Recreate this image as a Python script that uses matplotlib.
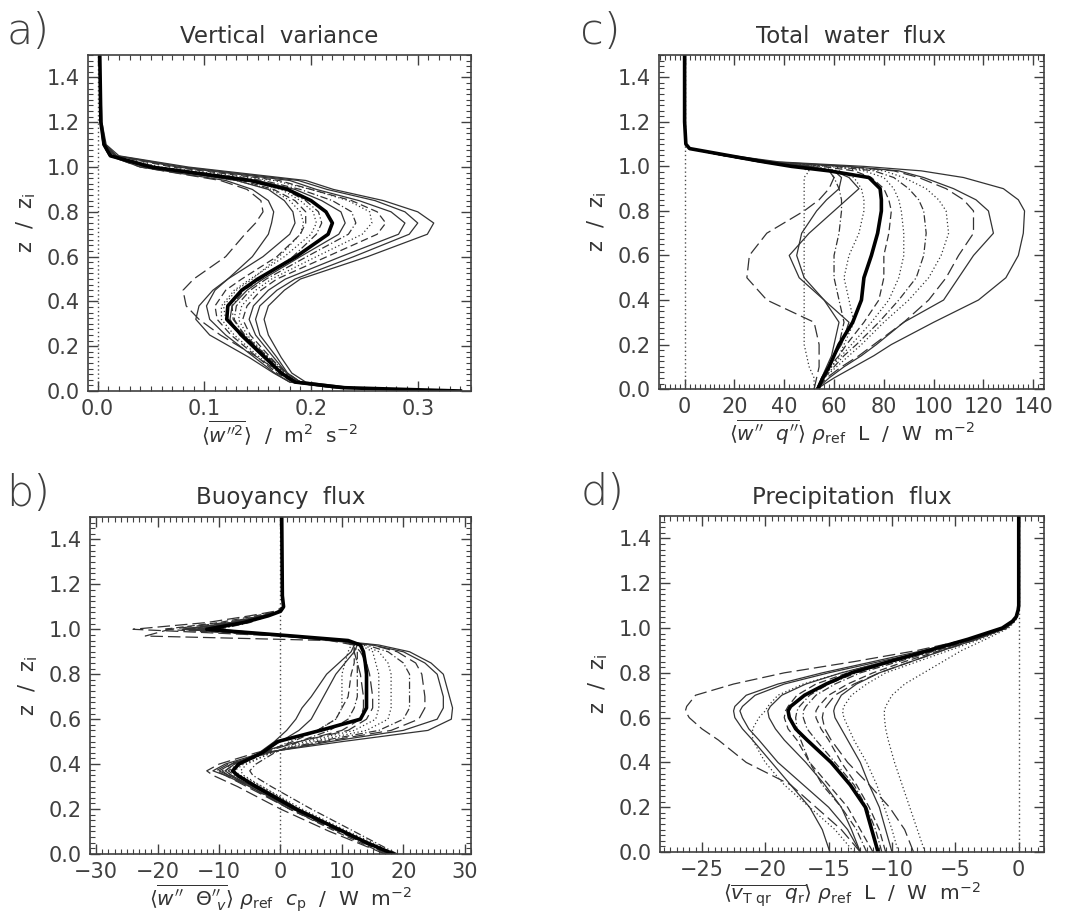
import matplotlib
matplotlib.use('Agg')
import matplotlib.pyplot as plt
from matplotlib.ticker import MultipleLocator, FuncFormatter

plt.rcParams['font.family'] = ['DejaVu Sans']
plt.rcParams['mathtext.fontset'] = 'dejavusans'

#%% data: heights (z / z_i) and profiles for each panel

# a) vertical variance
za = [0.0, 0.015, 0.04, 0.08, 0.15, 0.25, 0.32, 0.38, 0.45, 0.5, 0.6, 0.7, 0.75, 0.8, 0.85, 0.9, 0.94, 1.0, 1.05, 1.1, 1.2, 1.5]
wa_mean = [.34, .23, .185, .172, .157, .135, .121, .122, .135, .150, .186, .216, .220, .214, .200, .178, .143, .05, .012, .006, .003, .002]
wa_runs = [
    [.34, .24, .195, .182, .172, .16, .156, .16, .175, .19, .253, .309, .315, .30, .268, .221, .195, .085, .02, .008, .004, .002],
    [.34, .235, .19, .178, .168, .152, .148, .152, .168, .185, .24, .292, .300, .288, .26, .215, .188, .08, .018, .007, .003, .002],
    [.34, .235, .19, .177, .165, .148, .142, .146, .16, .176, .228, .282, .288, .275, .245, .205, .18, .075, .017, .007, .003, .002],
    [.34, .23, .19, .176, .162, .143, .136, .14, .153, .168, .215, .262, .270, .262, .238, .2, .17, .07, .016, .006, .003, .002],
    [.34, .23, .19, .175, .16, .14, .132, .135, .148, .163, .205, .248, .257, .255, .235, .2, .165, .06, .015, .006, .003, .002],
    [.34, .23, .188, .174, .158, .137, .128, .13, .143, .158, .196, .235, .242, .238, .22, .19, .155, .055, .014, .006, .003, .002],
    [.34, .228, .186, .172, .155, .133, .124, .126, .14, .155, .19, .226, .232, .228, .21, .185, .15, .055, .013, .006, .003, .002],
    [.34, .225, .184, .17, .152, .128, .116, .116, .128, .143, .175, .2, .205, .202, .19, .172, .14, .05, .012, .006, .003, .002],
    [.34, .225, .183, .168, .15, .125, .112, .11, .12, .135, .168, .19, .195, .195, .185, .165, .135, .045, .012, .006, .003, .002],
    [.34, .22, .18, .166, .147, .12, .105, .102, .11, .122, .145, .16, .163, .165, .16, .145, .12, .04, .011, .005, .003, .002],
    [.34, .225, .185, .172, .15, .115, .095, .083, .08, .09, .12, .138, .148, .155, .153, .14, .115, .04, .011, .005, .003, .002],
    [.34, .22, .18, .165, .142, .105, .092, .095, .108, .122, .155, .18, .185, .183, .175, .16, .13, .045, .012, .006, .003, .002],
    [.34, .23, .19, .178, .16, .138, .127, .126, .137, .153, .183, .205, .21, .207, .195, .175, .145, .055, .013, .006, .003, .002],
    [.34, .228, .187, .175, .16, .135, .12, .118, .13, .145, .17, .19, .193, .19, .18, .163, .13, .045, .012, .006, .003, .002],
]
wa_styles = ['solid', 'solid', 'solid', 'dashed', 'dotted', 'dashdot', 'solid', 'dotted', 'dashed', 'solid', 'longdash', 'solid', 'dashdot', 'dotted']

# c) total water flux
zc = [0.0, 0.05, 0.1, 0.15, 0.2, 0.3, 0.4, 0.5, 0.6, 0.7, 0.8, 0.85, 0.9, 0.95, 0.98, 1.0, 1.02, 1.05, 1.08, 1.1, 1.2, 1.5]
qc_mean = [53.5, 55.5, 58, 60, 62, 67.5, 71, 72, 75, 77.5, 79, 79, 78.5, 74, 58, 43, 32, 17, 2, 0.5, 0, 0]
qc_runs = [
    [53, 60, 68, 76, 83, 100, 118, 129, 134, 136, 136.5, 134, 128, 112, 95, 72, 38, 18, 2, .5, 0, 0],
    [53, 58, 64, 71, 77, 88, 104, 110, 116, 124, 122, 117, 108, 96, 86, 66, 36, 17, 2, .5, 0, 0],
    [53, 57, 63, 70, 76, 88, 98, 105, 110, 116, 116, 112, 105, 94, 84, 64, 35, 17, 2, .5, 0, 0],
    [53, 56, 61, 66, 71, 80, 90, 98, 103, 106, 105, 102, 97, 88, 80, 62, 34, 16, 2, .5, 0, 0],
    [53, 56, 60, 64, 69, 78, 86, 93, 96, 97, 96, 94, 90, 84, 76, 60, 33, 16, 2, .5, 0, 0],
    [53, 55, 59, 63, 67, 75, 82, 86, 88, 88, 87, 86, 84, 80, 72, 58, 33, 16, 2, .5, 0, 0],
    [53, 55, 58, 62, 65, 72, 78, 80, 80, 82, 83, 82, 80, 75, 68, 55, 32, 16, 2, .5, 0, 0],
    [54, 56, 58, 60, 63, 66, 56, 46, 42, 50, 60, 65, 70, 66, 60, 50, 31, 15, 2, .5, 0, 0],
    [53, 55, 57, 59, 60, 62, 56, 48, 45, 47, 53, 57, 62, 63, 60, 50, 31, 15, 2, .5, 0, 0],
    [52, 53, 54, 54, 54, 52, 33, 25, 26, 33, 48, 54, 58, 60, 58, 48, 30, 15, 2, .5, 0, 0],
    [52, 52, 50, 49, 48, 48, 48, 48, 48, 48, 48, 48, 48, 48, 50, 45, 30, 15, 2, .5, 0, 0],
    [53, 56, 58, 60, 62, 64, 62, 60, 60, 62, 63, 63, 62, 60, 58, 48, 30, 15, 2, .5, 0, 0],
    [53, 56, 59, 62, 64, 68, 66, 64, 66, 70, 72, 72, 71, 68, 62, 52, 32, 16, 2, .5, 0, 0],
]
qc_styles = ['solid', 'solid', 'longdash', 'dotted', 'dashdot', 'dotted', 'dashed', 'solid', 'solid', 'longdash', 'dotted', 'dashdot', 'dotted']

# b) buoyancy flux
zb = [0.0, 0.05, 0.1, 0.2, 0.3, 0.35, 0.37, 0.4, 0.45, 0.5, 0.55, 0.6, 0.65, 0.7, 0.8, 0.85, 0.9, 0.93, 0.95, 0.97, 1.0, 1.03, 1.06, 1.08, 1.1, 1.15, 1.5]
bb_mean = [18.4, 14, 10.2, 2.5, -4, -7, -7.8, -6.8, -3, -0.5, 6.5, 13, 14, 14, 14, 13.8, 13.5, 13, 11, 2, -12, -6, -2, 0, 0.5, 0.3, 0.2]
bb_runs = [
    [18, 14, 10, 2, -5, -9, -11, -9, -3, 10, 24, 27.8, 28, 27.5, 26.5, 24.5, 21, 16, 9, 1, -15, -8, -3, 0, 0.5, 0.3, 0.2],
    [18, 14, 10, 2.5, -4.5, -8.5, -10, -8, -2.5, 8, 20, 25.5, 26.5, 26.5, 25.5, 23.5, 20, 15, 8, 0.5, -14, -7, -3, 0, 0.5, 0.3, 0.2],
    [17.5, 13.5, 9.5, 1.5, -5.5, -9, -10.5, -8.5, -2, 7, 18, 22.5, 23.5, 23.5, 23, 22, 19, 15, 9, 1, -16, -8, -3, 0, 0.5, 0.3, 0.2],
    [18, 14, 10, 2.5, -4, -7.5, -8.5, -7, -2, 6, 16, 20, 21, 21, 21, 20, 17.5, 14, 10, 1, -13, -7, -2.5, 0, 0.5, 0.3, 0.2],
    [18, 14.5, 10.5, 3, -3, -6.5, -7.5, -6, -1.5, 5, 14, 17.5, 18, 18, 18, 17.5, 16, 13.5, 10, 1.5, -12, -6, -2, 0, 0.5, 0.3, 0.2],
    [18.5, 15, 11, 3.5, -3, -6, -6.5, -5.5, -1.5, 4, 12, 15.5, 16, 16, 16, 15.5, 15, 13, 10, 1, -11, -6, -2, 0, 0.5, 0.3, 0.2],
    [17, 13, 9, 1.5, -5, -8, -9, -7.5, -3, 2, 6, 9, 10, 11, 11.5, 12, 12, 12, 10, 1, -19, -10, -4, -0.5, 0.5, 0.3, 0.2],
    [18, 14, 10, 2, -4.5, -8, -9, -7.5, -3.5, -1, 1, 2.5, 3.5, 5, 7.5, 9.5, 11.5, 12, 10, 1, -16, -8, -3, 0, 0.5, 0.3, 0.2],
    [18.5, 14.5, 10.5, 3, -3.5, -7, -8, -6.5, -3, 0, 3, 5, 6, 7, 9, 10.5, 12, 12.5, 10.5, 1.5, -13, -7, -2.5, 0, 0.5, 0.3, 0.2],
    [17, 12.5, 8, 0, -7, -11, -12, -10, -4, 3, 10, 13, 13.5, 13.5, 13, 12.5, 12, 12, 10, 0, -24, -12, -5, -1, 0.5, 0.3, 0.2],
    [19, 15.5, 12, 5, -1.5, -4.5, -5, -4, -1, 3, 8, 11, 12, 12.5, 12.5, 12.5, 12.5, 12, 10.5, 2, -10, -5, -2, 0, 0.5, 0.3, 0.2],
    [18, 14, 10, 2.5, -4, -7, -8, -6.5, -2.5, 1.5, 6, 9, 10, 10, 10, 10.5, 11, 11.5, 10, 1, -14, -7, -2.5, 0, 0.5, 0.3, 0.2],
    [17.5, 13.5, 9.5, 1.5, -5, -8.5, -9.5, -8, -3, 3, 11, 14, 15, 15, 14.5, 14, 13, 12, 8, -22, -18, -9, -3, 0, 0.5, 0.3, 0.2],
]
bb_styles = ['solid', 'solid', 'longdash', 'dashdot', 'dotted', 'dotted', 'dashed', 'solid', 'solid', 'longdash', 'dashdot', 'dotted', 'longdash']

# d) precipitation flux
zd = [0.0, 0.1, 0.2, 0.3, 0.4, 0.5, 0.55, 0.6, 0.63, 0.65, 0.7, 0.75, 0.8, 0.85, 0.9, 0.95, 1.0, 1.03, 1.05, 1.08, 1.1, 1.5]
pd_mean = [-11.1, -11.6, -12.1, -13.3, -14.8, -16.7, -17.6, -18.1, -18.2, -18, -16.9, -15.2, -13.2, -10.2, -7.1, -4, -1.3, -0.5, -0.2, -0.05, 0, 0]
pd_runs = [
    [-12.5, -14, -16, -18, -21.5, -23.7, -25, -26, -26.3, -26.2, -25.5, -22.5, -18.5, -13, -8, -4, -1.2, -0.4, -0.2, 0, 0, 0],
    [-14.9, -15.5, -16.5, -18, -19.5, -21, -21.8, -22.4, -22.5, -22.4, -21.5, -19, -15.5, -11.5, -7.5, -4, -1.2, -0.4, -0.2, 0, 0, 0],
    [-12.5, -13.5, -15, -17, -19, -20.5, -21.3, -21.8, -22, -21.8, -20.8, -18.5, -15, -11, -7, -3.8, -1.1, -0.4, -0.2, 0, 0, 0],
    [-13, -14.5, -16.5, -18.5, -20, -21, -21, -20.5, -20, -19.8, -19, -17, -14, -10.5, -7, -3.5, -1, -0.4, -0.2, 0, 0, 0],
    [-12.5, -13.2, -14, -15.3, -16.8, -18.5, -19.2, -19.7, -19.8, -19.6, -18.7, -16.8, -14, -10.5, -7, -3.8, -1.1, -0.4, -0.2, 0, 0, 0],
    [-11.5, -12.5, -13.5, -15, -16.5, -17.5, -18.2, -18.5, -18.4, -18.2, -17.5, -16, -13.5, -10, -6.5, -3.5, -1, -0.4, -0.2, 0, 0, 0],
    [-10.8, -11.3, -12, -13, -14.5, -16, -16.7, -17, -17, -16.8, -16, -14.5, -12.5, -9.5, -6.5, -3.5, -1, -0.4, -0.2, 0, 0, 0],
    [-10.5, -11, -11.8, -12.8, -14, -15, -15.6, -16, -16, -15.8, -15, -13.5, -11.5, -9, -6.2, -3.3, -1, -0.4, -0.2, 0, 0, 0],
    [-10, -10.5, -11, -11.8, -12.5, -13.5, -14, -14.5, -14.6, -14.5, -14, -12.8, -11, -8.5, -6, -3.3, -1, -0.4, -0.2, 0, 0, 0],
    [-9.5, -10, -10.6, -11.2, -12, -13, -13.4, -13.8, -13.9, -13.8, -13.2, -12, -10.5, -8, -5.5, -3, -0.9, -0.3, -0.1, 0, 0, 0],
    [-8.3, -9, -10.2, -11.8, -13.5, -14.8, -15.3, -15.5, -15.4, -15.2, -14.5, -13, -11, -8.5, -6, -3.3, -1, -0.4, -0.2, 0, 0, 0],
    [-7.4, -8, -8.6, -9.2, -9.8, -10.3, -10.5, -10.6, -10.6, -10.5, -10, -9, -7.5, -6, -4.5, -2.6, -0.8, -0.3, -0.1, 0, 0, 0],
    [-12, -12.8, -14, -15.5, -16.5, -17.2, -17.5, -17.6, -17.5, -17.3, -16.5, -15, -12.8, -10, -7, -3.8, -1.1, -0.4, -0.2, 0, 0, 0],
]
pd_styles = ['longdash', 'solid', 'solid', 'dotted', 'solid', 'dashed', 'dashdot', 'dashed', 'solid', 'dotted', 'longdash', 'dotted', 'dashdot']

#%% plotting
dash = {'solid': '-', 'dashed': (0, (6, 3)), 'dotted': (0, (1, 2)),
        'dashdot': (0, (6, 2, 1, 2)), 'longdash': (0, (10, 4))}

fig = plt.figure(figsize=(10.91, 9.22), dpi=100)

panels = [
    ('a)', 'Vertical  variance', [0.0807, 0.5759, 0.3511, 0.3644], za, wa_runs, wa_styles, wa_mean,
     (-0.009, 0.35), 0.1, 0.01, r'$\langle\overline{w^{\prime\prime 2}}\rangle$  /  m$^2$  s$^{-2}$', '%.1f'),
    ('c)', 'Total  water  flux', [0.604, 0.578, 0.3529, 0.3623], zc, qc_runs, qc_styles, qc_mean,
     (-10.3, 144.3), 20, 2, r'$\langle\overline{w^{\prime\prime}\ \ q^{\prime\prime}}\rangle\ \rho_{\rm ref}$  L  /  W  m$^{-2}$', '%d'),
    ('b)', 'Buoyancy  flux', [0.0825, 0.0738, 0.3492, 0.3655], zb, bb_runs, bb_styles, bb_mean,
     (-31, 31), 10, 1, r'$\langle\overline{w^{\prime\prime}\ \ \Theta^{\prime\prime}_{\ v}}\rangle\ \rho_{\rm ref}\ \ c_{\rm p}$  /  W  m$^{-2}$', '%d'),
    ('d)', 'Precipitation  flux', [0.605, 0.0759, 0.352, 0.3644], zd, pd_runs, pd_styles, pd_mean,
     (-28.3, 2.0), 5, 0.5, r'$\langle\overline{v_{\rm T\ qr}\ \ q_{\rm r}}\rangle\ \rho_{\rm ref}$  L  /  W  m$^{-2}$', '%d'),
]

for label, title, rect, z, runs, styles, mean, xlim, xmaj, xmin, xlab, fmt in panels:
    ax = fig.add_axes(rect)
    ax.axvline(0, color='0.3', ls=(0, (1, 2)), lw=1.0)
    for prof, st in zip(runs, styles):
        ax.plot(prof, z, color='0.2', lw=0.9, ls=dash[st])
    ax.plot(mean, z, color='black', lw=2.6)

    ax.set_xlim(*xlim)
    ax.set_ylim(0, 1.5)
    ax.xaxis.set_major_locator(MultipleLocator(xmaj))
    ax.xaxis.set_minor_locator(MultipleLocator(xmin))
    ax.yaxis.set_major_locator(MultipleLocator(0.2))
    ax.yaxis.set_minor_locator(MultipleLocator(0.025))
    ax.xaxis.set_major_formatter(FuncFormatter(lambda v, p, f=fmt: (f % v).replace('-', '\u2212')))
    ax.yaxis.set_major_formatter(FuncFormatter(lambda v, p: '%.1f' % v))
    ax.tick_params(which='both', direction='in', top=True, right=True, colors='0.25', labelsize=15)
    ax.tick_params(which='major', length=7, width=1.0, pad=6)
    ax.tick_params(which='minor', length=3.5, width=0.8)
    for sp in ax.spines.values():
        sp.set_linewidth(1.2)
        sp.set_color('0.25')

    ax.set_xlabel(xlab, fontsize=14.5, color='0.2', labelpad=0)
    ax.set_ylabel(r'z  /  z$_{\rm i}$', fontsize=15, color='0.2', labelpad=6)
    ax.set_title(title, fontsize=16.5, color='0.2', pad=9)
    pos = ax.get_position()
    fig.text(0.006 if pos.x0 < 0.3 else 0.532, pos.y1 + 0.025, label, fontsize=31,
             fontweight='light', color='0.25', va='center', ha='left')

fig.savefig('out.png', dpi=100)
